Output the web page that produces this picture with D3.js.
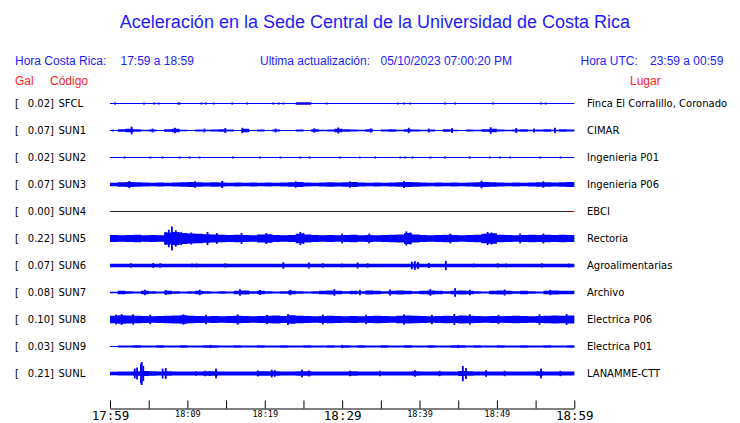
<!DOCTYPE html>
<html><head><meta charset="utf-8">
<script src="https://cdn.jsdelivr.net/npm/d3@7"></script>
<style>body{margin:0;background:#fff}svg{display:block}</style>
</head><body>
<svg id="c" width="740" height="423"></svg>
<script>
// ---------------- data ----------------
const titleText = "Aceleración en la Sede Central de la Universidad de Costa Rica";
const horaCR = "17:59 a 18:59";
const horaUTC = "23:59 a 00:59";
const updated = "05/10/2023 07:00:20 PM";
const startHour = 17, startMinute = 59, spanMinutes = 60;
const tickMinutes = [0,5,10,15,20,25,30,35,40,45,50,55,60];
const tickLabels = ["17:59","","18:09","","18:19","","18:29","","18:39","","18:49","","18:59"];
const bigTicks = [0,30,60];

const codes  = ["SFCL","SUN1","SUN2","SUN3","SUN4","SUN5","SUN6","SUN7","SUN8","SUN9","SUNL"];
const places = ["Finca El Corralillo, Coronado","CIMAR","Ingenieria P01","Ingenieria P06","EBCI","Rectoria","Agroalimentarias","Archivo","Electrica P06","Electrica P01","LANAMME-CTT"];
const peaks  = [0.02,0.07,0.02,0.07,0.00,0.22,0.07,0.08,0.10,0.03,0.21];

// per-minute envelope (Gal)
const bandSFCL = [0,0,0,0,0,0,0,0,0,0,0,0,0,0,0,0,0,0,0,0,0,0,0,0,0.025,0.025,0,0,0,0,0,0,0,0,0,0,0,0,0,0,0,0,0,0,0,0,0,0,0,0,0,0,0,0,0,0,0,0,0,0];
const bandSUN1 = [0.005,0.025,0.03,0.025,0.015,0.02,0.01,0.025,0.03,0.015,0.005,0.02,0.015,0.02,0.025,0.02,0.01,0.03,0.01,0.02,0.01,0.02,0.01,0.005,0.02,0.005,0.025,0.015,0.02,0.03,0.025,0.02,0.015,0.025,0.01,0.02,0.025,0.015,0.025,0.02,0.015,0.02,0.01,0.025,0.015,0.01,0.02,0.015,0.025,0.03,0.02,0.015,0.02,0.025,0.015,0.02,0.025,0.015,0.025,0.02];
const bandSUN2 = [0,0,0,0,0,0,0,0,0,0,0,0,0,0,0,0,0,0,0,0,0,0,0,0,0,0,0,0,0,0,0,0,0,0,0,0,0,0,0,0,0,0,0,0,0,0,0,0,0,0,0,0,0,0,0,0,0,0,0,0];
const bandSUN3 = [0.03,0.04,0.045,0.04,0.035,0.03,0.035,0.03,0.035,0.04,0.045,0.04,0.035,0.04,0.035,0.03,0.035,0.03,0.035,0.03,0.035,0.03,0.035,0.04,0.045,0.035,0.03,0.035,0.04,0.035,0.04,0.045,0.035,0.03,0.035,0.03,0.035,0.04,0.045,0.04,0.035,0.03,0.035,0.03,0.035,0.03,0.035,0.04,0.045,0.04,0.035,0.03,0.035,0.03,0.035,0.04,0.04,0.035,0.04,0.045];
const bandSUN4 = [0,0,0,0,0,0,0,0,0,0,0,0,0,0,0,0,0,0,0,0,0,0,0,0,0,0,0,0,0,0,0,0,0,0,0,0,0,0,0,0,0,0,0,0,0,0,0,0,0,0,0,0,0,0,0,0,0,0,0,0];
const bandSUN5 = [0.065,0.06,0.065,0.07,0.06,0.065,0.06,0.11,0.12,0.1,0.09,0.085,0.08,0.075,0.07,0.065,0.07,0.065,0.06,0.075,0.08,0.065,0.06,0.065,0.085,0.075,0.065,0.06,0.065,0.06,0.065,0.07,0.06,0.065,0.06,0.065,0.07,0.075,0.1,0.075,0.065,0.06,0.065,0.07,0.065,0.06,0.065,0.07,0.085,0.095,0.07,0.065,0.06,0.065,0.07,0.065,0.07,0.065,0.07,0.065];
const bandSUN6 = [0.03,0.03,0.03,0.03,0.03,0.03,0.03,0.03,0.03,0.03,0.03,0.03,0.03,0.03,0.03,0.03,0.03,0.03,0.03,0.03,0.03,0.03,0.03,0.03,0.03,0.03,0.03,0.03,0.03,0.03,0.03,0.03,0.03,0.03,0.03,0.03,0.03,0.03,0.03,0.035,0.03,0.03,0.03,0.03,0.03,0.03,0.03,0.03,0.03,0.03,0.03,0.03,0.03,0.03,0.03,0.03,0.03,0.03,0.03,0.03];
const bandSUN7 = [0.015,0.03,0.025,0.02,0.03,0.025,0.02,0.03,0.025,0.02,0.025,0.03,0.025,0.02,0.025,0.02,0.03,0.035,0.025,0.03,0.025,0.02,0.025,0.03,0.025,0.02,0.025,0.03,0.035,0.03,0.025,0.03,0.025,0.035,0.03,0.025,0.03,0.035,0.03,0.025,0.03,0.035,0.03,0.025,0.03,0.035,0.03,0.025,0.02,0.03,0.035,0.03,0.025,0.03,0.025,0.02,0.03,0.035,0.03,0.03];
const bandSUN8 = [0.07,0.08,0.075,0.07,0.065,0.06,0.065,0.07,0.075,0.08,0.07,0.065,0.06,0.065,0.06,0.065,0.07,0.065,0.06,0.065,0.07,0.075,0.065,0.08,0.07,0.065,0.06,0.065,0.07,0.065,0.06,0.065,0.06,0.065,0.07,0.065,0.06,0.07,0.075,0.07,0.065,0.06,0.065,0.07,0.065,0.075,0.07,0.065,0.06,0.065,0.06,0.065,0.07,0.065,0.06,0.065,0.07,0.075,0.07,0.075];
const bandSUN9 = [0.01,0.02,0.02,0.022,0.02,0.02,0.022,0.02,0.02,0.022,0.02,0.02,0.022,0.025,0.02,0.02,0.022,0.02,0.02,0.022,0.02,0.02,0.022,0.02,0.02,0.022,0.02,0.02,0.022,0.02,0.025,0.02,0.022,0.02,0.02,0.022,0.02,0.02,0.022,0.02,0.02,0.022,0.02,0.02,0.022,0.025,0.02,0.022,0.02,0.02,0.022,0.02,0.02,0.022,0.02,0.02,0.022,0.02,0.02,0.022];
const bandSUNL = [0.03,0.035,0.035,0.04,0.045,0.04,0.035,0.04,0.035,0.035,0.035,0.035,0.04,0.04,0.035,0.035,0.035,0.035,0.035,0.04,0.04,0.04,0.035,0.035,0.04,0.04,0.035,0.035,0.035,0.035,0.035,0.04,0.035,0.035,0.035,0.035,0.035,0.035,0.035,0.04,0.035,0.035,0.035,0.035,0.035,0.045,0.04,0.035,0.035,0.035,0.035,0.035,0.035,0.035,0.035,0.04,0.035,0.035,0.035,0.035];

// spikes: [minute after 17:59, peak Gal]
const spikesSFCL = [[0.65,0.02],[4.4,0.012],[5.7,0.01],[6.3,0.015],[8.8,0.01],[9.0,0.015],[11.8,0.01],[12.4,0.01],[13.4,0.01],[15.8,0.015],[17.7,0.008],[21.1,0.01],[21.8,0.01],[22.4,0.015],[28.0,0.008],[37.2,0.015],[38.0,0.01],[38.8,0.01],[43.3,0.01],[44.6,0.01],[49.5,0.01],[55.7,0.015],[56.3,0.01]];
const spikesSUN1 = [[0.4,0.015],[2.8,0.07],[5.5,0.035],[8.4,0.05],[12.2,0.035],[14.9,0.045],[17.1,0.05],[21.4,0.035],[26.4,0.04],[29.5,0.055],[33.7,0.04],[38.6,0.05],[41.2,0.035],[44.2,0.045],[49.2,0.06],[52.5,0.045],[54.8,0.035],[57.5,0.05]];
const spikesSUN2 = [[1.9,0.01],[5.2,0.015],[6.8,0.01],[9,0.01],[10.3,0.012],[11.6,0.01],[15.9,0.01],[19.4,0.015],[22,0.01],[24.6,0.012],[25.8,0.01],[29.7,0.015],[32.3,0.01],[34.3,0.01],[37.5,0.015],[38.1,0.01],[39.1,0.01],[41.4,0.012],[43.3,0.01],[46.5,0.01],[49.1,0.015],[50.4,0.01],[51.7,0.01],[55.6,0.012],[58.2,0.01]];
const spikesSUN3 = [[2.5,0.065],[11,0.06],[14.5,0.065],[24,0.06],[31,0.06],[38,0.065],[48,0.07],[56,0.06]];
const spikesSUN4 = [];
const spikesSUN5 = [[8.0,0.22],[7.6,0.16],[8.5,0.15],[7.2,0.12],[9.2,0.12],[10.5,0.11],[12.6,0.12],[13.8,0.1],[17,0.1],[20.2,0.1],[24.6,0.12],[25,0.1],[30,0.09],[33.5,0.09],[38.3,0.13],[38.8,0.11],[44,0.09],[48.8,0.12],[49.3,0.11],[53,0.09],[56,0.09]];
const spikesSUN6 = [[2.7,0.04],[5.6,0.045],[6.5,0.04],[10.6,0.035],[11.2,0.035],[14.9,0.04],[22.4,0.06],[25.7,0.055],[27.5,0.04],[30,0.035],[32,0.055],[33.3,0.04],[39,0.07],[39.4,0.08],[39.8,0.065],[41.2,0.045],[43.4,0.085],[47,0.035],[50.1,0.04],[51.2,0.035],[55.8,0.04],[59.3,0.035]];
const spikesSUN7 = [[4.5,0.05],[7.2,0.045],[11.6,0.05],[16.8,0.06],[19.4,0.045],[23.3,0.05],[29,0.06],[32.3,0.05],[36.2,0.055],[41.4,0.06],[44.6,0.08],[46.5,0.05],[51,0.055],[56.9,0.05]];
const spikesSUN8 = [[0.8,0.09],[1.5,0.1],[3,0.095],[5.2,0.085],[9.5,0.095],[12.4,0.085],[16.5,0.095],[20.3,0.085],[23,0.1],[27.5,0.09],[33.1,0.085],[38,0.095],[41.6,0.085],[44.5,0.1],[46.5,0.095],[50.2,0.085],[55.5,0.095],[59,0.1]];
const spikesSUN9 = [[13,0.03],[30,0.03],[45,0.03]];
const spikesSUNL = [[3.2,0.09],[3.5,0.11],[4.0,0.18],[4.1,0.21],[4.3,0.14],[6.8,0.09],[7.2,0.1],[11.1,0.04],[12.3,0.05],[12.9,0.04],[13.7,0.09],[19.1,0.055],[20.9,0.07],[21.3,0.06],[24.8,0.07],[25.7,0.055],[31,0.05],[34.9,0.05],[39.4,0.06],[42.6,0.05],[45.6,0.14],[46,0.1],[48.6,0.06],[51,0.05],[55.7,0.09],[58.2,0.05]];

const bands  = [bandSFCL,bandSUN1,bandSUN2,bandSUN3,bandSUN4,bandSUN5,bandSUN6,bandSUN7,bandSUN8,bandSUN9,bandSUNL];
const spikes = [spikesSFCL,spikesSUN1,spikesSUN2,spikesSUN3,spikesSUN4,spikesSUN5,spikesSUN6,spikesSUN7,spikesSUN8,spikesSUN9,spikesSUNL];

// ---------------- drawing ----------------
const svg = d3.select("#c");
const BLUE = "#0000ff", TBLUE = "#1c1cff", RED = "#ff1c1c";
const x = d3.scaleLinear().domain([0, spanMinutes]).range([110, 574.3]);
const row = d3.scalePoint().domain(codes).range([103, 373]);
const amp = d3.scaleLinear().domain([0, 0.22]).range([0, 12]);

svg.append("text").attr("x", 375).attr("y", 28).attr("text-anchor","middle")
  .attr("font-family","Liberation Sans, Arial, sans-serif").attr("font-size",18)
  .attr("fill",TBLUE).text(titleText);

const hdr = svg.append("g").attr("font-family","Liberation Sans, Arial, sans-serif").attr("font-size",12).attr("fill",TBLUE);
hdr.append("text").attr("x",15).attr("y",65).text("Hora Costa Rica:");
hdr.append("text").attr("x",120.5).attr("y",65).text(horaCR);
hdr.append("text").attr("x",260).attr("y",65).text("Ultima actualización:");
hdr.append("text").attr("x",380.5).attr("y",65).text(updated);
hdr.append("text").attr("x",580.5).attr("y",65).text("Hora UTC:");
hdr.append("text").attr("x",650).attr("y",65).text(horaUTC);
const hdr2 = svg.append("g").attr("font-family","Liberation Sans, Arial, sans-serif").attr("font-size",12).attr("fill",RED);
hdr2.append("text").attr("x",15).attr("y",85).text("Gal");
hdr2.append("text").attr("x",50).attr("y",85).text("Código");
hdr2.append("text").attr("x",630).attr("y",85).text("Lugar");

const lab = svg.append("g").attr("font-family","DejaVu Sans, sans-serif").attr("font-size",10).attr("fill","#000");
codes.forEach((c,i)=>{
  const yc = row(c);
  lab.append("text").attr("x",15).attr("y",yc+4).text("[");
  lab.append("text").attr("x",54).attr("y",yc+4).attr("text-anchor","end").text(peaks[i].toFixed(2)+"]");
  lab.append("text").attr("x",58.5).attr("y",yc+4).text(c);
  lab.append("text").attr("x",587).attr("y",yc+4).text(places[i]);
});

const area = d3.area().curve(d3.curveStepAfter);
codes.forEach((c,i)=>{
  const yc = Math.round(row(c)) + 0.5;
  const g = svg.append("g");
  const b = bands[i].concat([bands[i][bands[i].length-1]]);
  const flat = d3.max(b) === 0 && spikes[i].length === 0;
  g.append("path")
    .attr("d", area.x((d,k)=>x(k)).y0(d=>yc-amp(d)).y1(d=>yc+amp(d))(b))
    .attr("fill",BLUE);
  g.append("line").attr("x1",x(0)).attr("x2",x(spanMinutes)).attr("y1",yc).attr("y2",yc)
    .attr("stroke", flat ? "#222" : BLUE).attr("stroke-width",1);
  if (flat) {
    g.append("line").attr("x1",x(spanMinutes)-4).attr("x2",x(spanMinutes)).attr("y1",yc).attr("y2",yc)
      .attr("stroke","#e00").attr("stroke-width",1);
  }
  g.selectAll("rect.s").data(spikes[i]).join("rect")
    .attr("x",d=>x(d[0])-0.9).attr("width",1.8)
    .attr("y",d=>yc-Math.max(amp(d[1]),1)).attr("height",d=>2*Math.max(amp(d[1]),1))
    .attr("fill",BLUE);
});

const fmt = m => {
  const t = startHour*60 + startMinute + m;
  return String(Math.floor(t/60)%24).padStart(2,"0")+":"+String(t%60).padStart(2,"0");
};
const axis = d3.axisBottom(x).tickValues(tickMinutes).tickSizeInner(-8).tickSizeOuter(0)
  .tickFormat((d,i)=>tickLabels[i] ? fmt(d) : "");
const ax = svg.append("g").attr("transform","translate(0,408.5)").call(axis);
ax.select(".domain").attr("stroke","#000");
ax.selectAll(".tick line").attr("stroke","#000");
ax.selectAll(".tick text")
  .attr("font-family","DejaVu Sans Mono, monospace")
  .attr("fill","#000")
  .attr("dy",null)
  .attr("y", d => bigTicks.includes(d) ? 11 : 8)
  .attr("font-size", d => bigTicks.includes(d) ? 12.5 : 8.5);
</script>
</body></html>
